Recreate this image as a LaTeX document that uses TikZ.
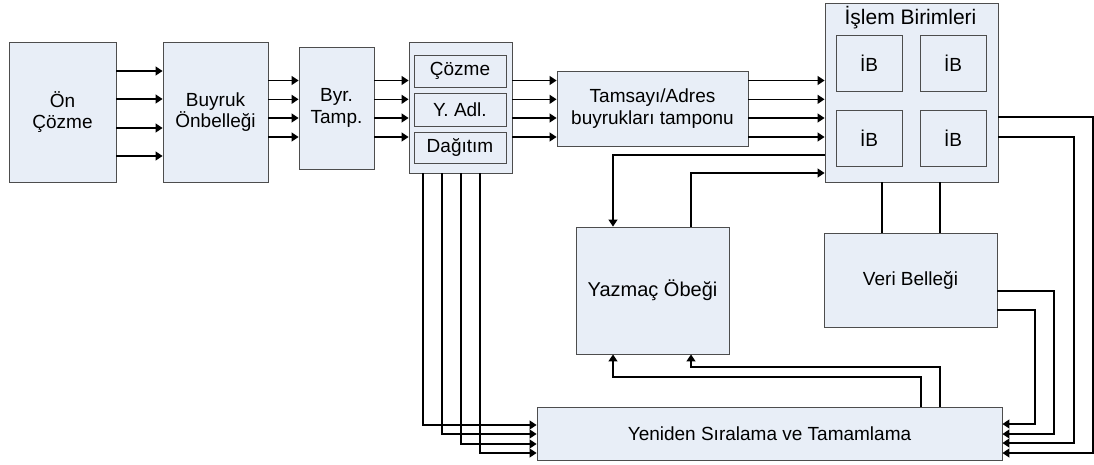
\documentclass[tikz,border=0pt]{standalone}
\usepackage{fontspec}
\setmainfont{Liberation Sans}
\usetikzlibrary{arrows.meta}
\definecolor{boxfill}{HTML}{E8EEF7}
\definecolor{boxline}{HTML}{4D4D4D}
\begin{document}
\begin{tikzpicture}[x=1pt,y=-1pt,
  block/.style={draw=boxline,line width=0.9pt,fill=boxfill,inner sep=0pt,align=center,
    font=\fontsize{19}{21.5}\selectfont},
  wire/.style={line width=1.3pt,black},
  arr/.style={wire,-{Triangle[length=7pt,width=9pt]}}]
\useasboundingbox (0,0) rectangle (1094,464);

% main pipeline blocks
\node[block,minimum width=107pt,minimum height=140pt] (pre)   at (62.5,112)  {Ön\\Çözme};
\node[block,minimum width=105pt,minimum height=140pt] (cache) at (215.5,112)  {Buyruk\\Önbelleği};
\node[block,minimum width=75pt, minimum height=122pt] (buf)   at (336.5,108)  {Byr.\\Tamp.};
\node[block,minimum width=103pt,minimum height=131pt] (dec)   at (460.5,107.5) {};
\node[block,minimum width=92pt, minimum height=32pt]  (dz)    at (460,71)     {Çözme};
\node[block,minimum width=92pt, minimum height=33pt]  (dr)    at (460,109.5)  {Y. Adl.};
\node[block,minimum width=92pt, minimum height=31pt]  (dd)    at (460,147.5)  {Dağıtım};
\node[block,minimum width=191pt,minimum height=75pt]  (tam)   at (652.5,108.5) {Tamsayı/Adres\\buyrukları tamponu};

% execution units
\node[block,minimum width=173pt,minimum height=179pt] (eu) at (911.5,92.5) {};
\node[font=\fontsize{21}{24}\selectfont,inner sep=0pt] (eut) at (910.5,18) {İşlem Birimleri};
\node[block,minimum width=66pt,minimum height=56pt] (ib1) at (869,63)  {İB};
\node[block,minimum width=66pt,minimum height=56pt] (ib2) at (953,63)  {İB};
\node[block,minimum width=66pt,minimum height=56pt] (ib3) at (869,138) {İB};
\node[block,minimum width=66pt,minimum height=56pt] (ib4) at (953,138) {İB};

% register file, data memory, reorder unit
\node[block,minimum width=153pt,minimum height=127pt,font=\fontsize{20}{23}\selectfont] (reg) at (652.5,290.5) {Yazmaç Öbeği};
\node[block,minimum width=173pt,minimum height=94pt]  (mem) at (910.5,280)   {Veri Belleği};
\node[block,minimum width=465pt,minimum height=53pt]  (rob) at (769.5,433.5) {Yeniden Sıralama ve Tamamlama};

% four-wide instruction paths
\foreach \y in {71,99,128,156}
  \draw[arr] (pre.east |- 0,\y) -- (cache.west |- 0,\y);
\foreach \y in {80.5,99.3,118,137}{
  \draw[arr] (cache.east |- 0,\y) -- (buf.west |- 0,\y);
  \draw[arr] (buf.east |- 0,\y) -- (dec.west |- 0,\y);
  \draw[arr] (dec.east |- 0,\y) -- (tam.west |- 0,\y);
  \draw[arr] (tam.east |- 0,\y) -- (eu.west |- 0,\y);
}

% dispatch to reorder unit
\draw[arr] (dec.south -| 423,0) |- (rob.west |- 0,425);
\draw[arr] (dec.south -| 442,0) |- (rob.west |- 0,434);
\draw[arr] (dec.south -| 461,0) |- (rob.west |- 0,444);
\draw[arr] (dec.south -| 480,0) |- (rob.west |- 0,453);

% execution units <-> register file
\draw[arr] (eu.west |- 0,155) -| (reg.north -| 613,0);
\draw[arr] (reg.north -| 691,0) |- (eu.west |- 0,173);

% execution units <-> data memory
\draw[wire] (eu.south -| 882,0) -- (mem.north -| 882,0);
\draw[wire] (eu.south -| 940,0) -- (mem.north -| 940,0);

% results to reorder unit
\draw[arr] (eu.east |- 0,117) -- (1093,117) |- (rob.east |- 0,453);
\draw[arr] (eu.east |- 0,137) -- (1074,137) |- (rob.east |- 0,443);
\draw[arr] (mem.east |- 0,291) -- (1054,291) |- (rob.east |- 0,434);
\draw[arr] (mem.east |- 0,310) -- (1035,310) |- (rob.east |- 0,424);

% retirement writes back to register file
\draw[arr] (rob.north -| 921,0) -- (921,377) -| (reg.south -| 613,0);
\draw[arr] (rob.north -| 940,0) -- (940,367) -| (reg.south -| 691,0);
\end{tikzpicture}
\end{document}
